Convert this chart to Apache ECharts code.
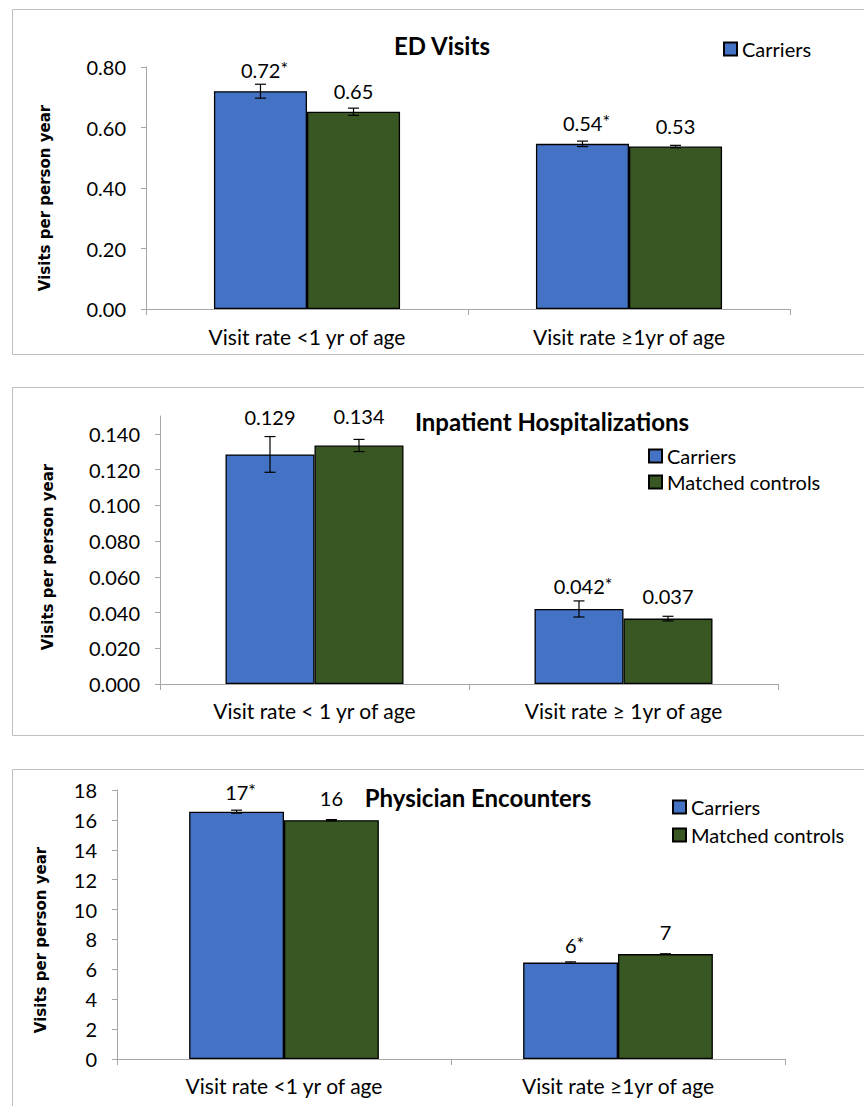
<!DOCTYPE html>
<html>
<head>
<meta charset="utf-8">
<script src="https://cdn.jsdelivr.net/npm/echarts@6/dist/echarts.min.js"></script>
<style>html,body{margin:0;padding:0;background:#fff}#c{width:864px;height:1106px}</style>
</head>
<body>
<div id="c"></div>
<script>
// ---------- data ----------
const catsED = ['Visit rate <1 yr of age', 'Visit rate \u22651yr of age'];
const catsIP = ['Visit rate < 1 yr of age', 'Visit rate \u2265 1yr of age'];
const catsPE = ['Visit rate <1 yr of age', 'Visit rate \u22651yr of age'];

const edCarriers = [0.720, 0.546];
const edCarriersErr = [0.023, 0.009];
const edControls = [0.652, 0.537];
const edControlsErr = [0.012, 0.004];
const edCarriersLbl = ['0.72*', '0.54*'];
const edControlsLbl = ['0.65', '0.53'];
const edTicks = [0, 0.2, 0.4, 0.6, 0.8];

const ipCarriers = [0.1285, 0.0420];
const ipCarriersErr = [0.0100, 0.0045];
const ipControls = [0.1335, 0.0366];
const ipControlsErr = [0.0034, 0.0013];
const ipCarriersLbl = ['0.129', '0.042*'];
const ipControlsLbl = ['0.134', '0.037'];
const ipTicks = [0, 0.02, 0.04, 0.06, 0.08, 0.10, 0.12, 0.14];

const peCarriers = [16.55, 6.45];
const peCarriersErr = [0.10, 0.05];
const peControls = [15.98, 7.02];
const peControlsErr = [0.04, 0.02];
const peCarriersLbl = ['17*', '6*'];
const peControlsLbl = ['16', '7'];
const peTicks = [0, 2, 4, 6, 8, 10, 12, 14, 16, 18];

const titles = ['ED Visits', 'Inpatient Hospitalizations', 'Physician Encounters'];
const yName = 'Visits per person year';

// ---------- layout / style ----------
const FONT = 'Lato, "Open Sans", sans-serif';
const BLUE = '#4472C4';
const GREEN = '#385723';
const AXIS = '#a6a6a6';

const panels = [
  {cats: catsED, car: edCarriers, carE: edCarriersErr, con: edControls, conE: edControlsErr,
   carL: edCarriersLbl, conL: edControlsLbl, ticks: edTicks, max: 0.8, dec: 2,
   grid: {left: 146, right: 74, top: 67, bottom: 797}, frac: 0.289,
   dist: 10, carOff: [0, 0], conOff: [0, 0], labMargin: 17,
   legend: {names: ['Carriers'], left: 723, top: 39, gap: 5},
   title: {x: 442, y: 45}, yname: {x: 45, y: 198}},
  {cats: catsIP, car: ipCarriers, carE: ipCarriersErr, con: ipControls, conE: ipControlsErr,
   carL: ipCarriersLbl, conL: ipControlsLbl, ticks: ipTicks, max: 0.15, dec: 3,
   grid: {left: 160, right: 86, top: 416, bottom: 422}, frac: 0.288,
   dist: 12, carOff: [-14, 0], conOff: [-6, 0], labMargin: 16,
   legend: {names: ['Carriers', 'Matched controls'], left: 648, top: 446, gap: 6},
   title: {x: 552, y: 421}, yname: {x: 48, y: 557}},
  {cats: catsPE, car: peCarriers, carE: peCarriersErr, con: peControls, conE: peControlsErr,
   carL: peCarriersLbl, conL: peControlsLbl, ticks: peTicks, max: 18, dec: 0,
   grid: {left: 117, right: 79, top: 790, bottom: 47}, frac: 0.284,
   dist: 9, carOff: [0, 2], conOff: [-2, -2], labMargin: 16,
   legend: {names: ['Carriers', 'Matched controls'], left: 672, top: 797, gap: 8},
   title: {x: 478, y: 797}, yname: {x: 41, y: 940}}
];

function lblFmt(s) {
  if (s.indexOf('*') >= 0) return '{v|' + s.replace('*', '') + '}{s|*}';
  return '{v|' + s + '}';
}
const rich = {
  v: {fontSize: 20, fontFamily: FONT, color: '#000', lineHeight: 22},
  s: {fontSize: 18, fontFamily: FONT, color: '#000', verticalAlign: 'top', lineHeight: 14}
};

const grids = [], xAxes = [], yAxes = [], series = [], legends = [], graphics = [];

// panel borders
[[9.5, 345], [387.5, 348], [769.5, 400]].forEach(function (b) {
  graphics.push({type: 'rect', z: 0, silent: true, shape: {x: 12.5, y: b[0], width: 900, height: b[1]},
    style: {fill: 'none', stroke: '#bfbfbf', lineWidth: 1}});
});

panels.forEach(function (p, i) {
  grids.push(p.grid);
  xAxes.push({type: 'category', gridIndex: i, data: p.cats,
    axisLine: {lineStyle: {color: AXIS, width: 1}},
    axisTick: {show: true, length: 6, lineStyle: {color: AXIS}},
    axisLabel: {margin: p.labMargin, fontSize: 21, fontFamily: FONT, color: '#000'}});
  yAxes.push({type: 'value', gridIndex: i, min: 0, max: p.max, interval: p.ticks[1] - p.ticks[0],
    splitLine: {show: false},
    axisLine: {show: true, lineStyle: {color: AXIS, width: 1}},
    axisTick: {show: true, length: 5, lineStyle: {color: AXIS}, customValues: p.ticks},
    axisLabel: {margin: 20, fontSize: 20, fontFamily: FONT, color: '#000', customValues: p.ticks,
      formatter: function (v) { return Number(v).toFixed(p.dec); }}});

  const cg = ((1 - 2 * p.frac) * 100).toFixed(1) + '%';
  function barSeries(name, vals, lbls, color, offs) {
    return {type: 'bar', name: name, xAxisIndex: i, yAxisIndex: i, barGap: '0%', barCategoryGap: cg,
      itemStyle: {color: color, borderColor: '#000', borderWidth: 1.3},
      label: {show: true, position: 'top', distance: p.dist, rich: rich},
      data: vals.map(function (v, k) {
        const star = lbls[k].indexOf('*') >= 0;
        return {value: v, label: {formatter: lblFmt(lbls[k]), offset: [star ? 4 : 0, offs[k]]}};
      })};
  }
  series.push(barSeries('Carriers', p.car, p.carL, BLUE, p.carOff));
  series.push(barSeries('Matched controls', p.con, p.conL, GREEN, p.conOff));

  function errSeries(vals, errs, sign) {
    return {type: 'custom', xAxisIndex: i, yAxisIndex: i, z: 5, silent: true,
      encode: {x: 0, y: 1},
      data: vals.map(function (v, k) { return [k, v, errs[k]]; }),
      renderItem: function (params, api) {
        const idx = api.value(0), v = api.value(1), e = api.value(2);
        const band = api.size([1, 0])[0];
        const x = api.coord([idx, v])[0] + sign * band * p.frac / 2;
        const t = api.coord([idx, v + e])[1];
        const b = api.coord([idx, v - e])[1];
        const st = {stroke: '#000', lineWidth: 1.2};
        return {type: 'group', children: [
          {type: 'line', shape: {x1: x, y1: t, x2: x, y2: b}, style: st},
          {type: 'line', shape: {x1: x - 5.5, y1: t, x2: x + 5.5, y2: t}, style: st},
          {type: 'line', shape: {x1: x - 5.5, y1: b, x2: x + 5.5, y2: b}, style: st}
        ]};
      }};
  }
  series.push(errSeries(p.car, p.carE, -1));
  series.push(errSeries(p.con, p.conE, 1));

  legends.push({data: p.legend.names, orient: 'vertical', left: p.legend.left, top: p.legend.top,
    padding: 0, icon: 'rect', itemWidth: 13, itemHeight: 13, itemGap: p.legend.gap, selectedMode: false,
    textStyle: {fontSize: 20, fontFamily: FONT, color: '#000'}});

  graphics.push({type: 'text', x: p.title.x, y: p.title.y, z: 10,
    style: {text: titles[i], font: 'bold 24px ' + FONT, fill: '#000', textAlign: 'center', textVerticalAlign: 'middle'}});
  graphics.push({type: 'text', x: p.yname.x, y: p.yname.y, rotation: Math.PI / 2, z: 10,
    style: {text: yName, font: 'bold 15px "DejaVu Sans", sans-serif', fill: '#000', textAlign: 'center', textVerticalAlign: 'middle'}});
});

const chart = echarts.init(document.getElementById('c'), null, {renderer: 'svg'});
chart.setOption({
  animation: false,
  backgroundColor: '#fff',
  grid: grids, xAxis: xAxes, yAxis: yAxes, series: series, legend: legends,
  graphic: {elements: graphics}
});
</script>
</body>
</html>
